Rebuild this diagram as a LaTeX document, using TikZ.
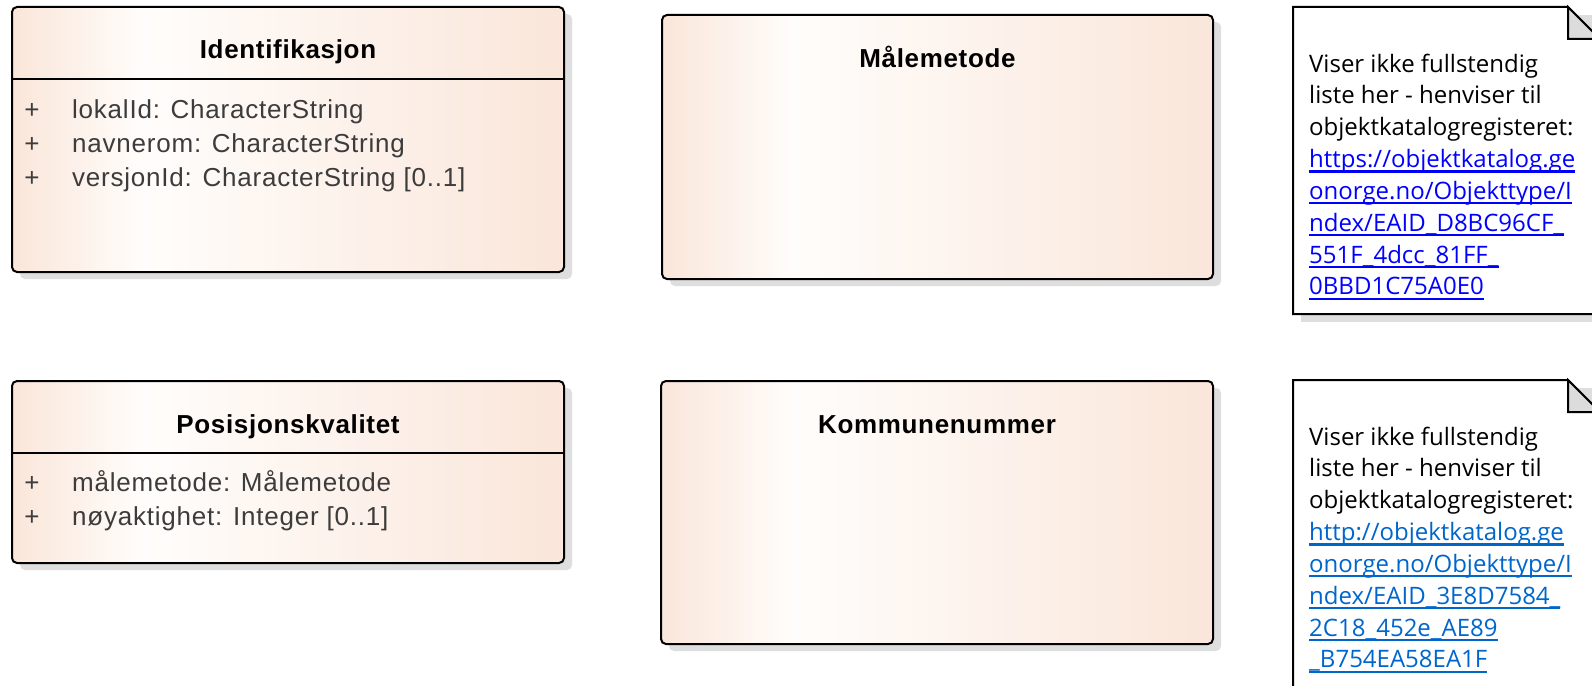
\documentclass[tikz,border=0pt]{standalone}
\usepackage{fontspec}
\setmainfont{Liberation Sans}
\newfontfamily\attrfont[LetterSpace=3]{Liberation Sans}
\newfontfamily\titlefont[LetterSpace=2.6]{Liberation Sans}
\newfontfamily\notefont{Open Sans}
\usetikzlibrary{shadows}
\definecolor{peach}{RGB}{250,230,218}
\definecolor{peachlight}{RGB}{255,253,251}
\definecolor{shadowgray}{RGB}{222,222,222}
\definecolor{attrgray}{RGB}{60,60,60}
\definecolor{foldgray}{RGB}{220,220,220}
\definecolor{linkA}{RGB}{0,0,255}
\definecolor{linkB}{RGB}{0,102,204}
\pgfdeclarehorizontalshading{classshade}{100bp}{color(0bp)=(peach); color(25bp)=(peach); color(37bp)=(peachlight); color(75bp)=(peach); color(100bp)=(peach)}
\newcommand\lnk[1]{\setbox0=\hbox{#1}\rlap{\rule[-5pt]{\wd0}{2.2pt}}\box0}
\tikzset{
  classbox/.style={draw=black, line width=2pt, rounded corners=5pt, shading=classshade, shade,
    inner sep=0pt, outer sep=0pt, anchor=north west,
    drop shadow={shadow xshift=8pt, shadow yshift=-7pt, fill=shadowgray, opacity=1}},
  sepline/.style={draw=black, line width=2pt},
  titletext/.style={anchor=base, inner sep=0pt, font=\titlefont\bfseries\fontsize{26pt}{30pt}\selectfont},
  attr/.style={anchor=base west, inner sep=0pt, text=attrgray, font=\attrfont\fontsize{26pt}{30pt}\selectfont},
  plus/.style={anchor=base, inner sep=0pt, text=attrgray, font=\fontsize{26pt}{30pt}\selectfont},
  notebody/.style={draw=black, fill=white, line width=2pt},
  noteshadow/.style={fill=shadowgray},
  notefold/.style={draw=black, fill=foldgray, line width=2pt, line join=miter},
  notetext/.style={anchor=base west, inner sep=0pt, font=\notefont\fontsize{24pt}{28pt}\selectfont},
}
\begin{document}
\begin{tikzpicture}[x=1pt,y=-1pt]
\useasboundingbox[fill=white] (0,0) rectangle (1592,685);
\clip (0,0) rectangle (1592,685);

% Identifikasjon
\node[classbox, minimum width=552pt, minimum height=265pt] (idbox) at (12,7) {};
\coordinate (idsep) at (0,79);
\draw[sepline] (idbox.west |- idsep) -- (idbox.east |- idsep);
\node[titletext] (idtitle) at (288,59) {Identifikasjon};
\node[plus] (idp1) at (32,118) {+};
\node[attr] (ida1) at (72,118) {lokalId: CharacterString};
\node[plus] (idp2) at (32,152) {+};
\node[attr] (ida2) at (72,152) {navnerom: CharacterString};
\node[plus] (idp3) at (32,186) {+};
\node[attr] (ida3) at (72,186) {versjonId: CharacterString [0..1]};

% Målemetode
\node[classbox, minimum width=551pt, minimum height=264pt] (malbox) at (662,15) {};
\node[titletext] (maltitle) at (937.5,67) {Målemetode};

% Posisjonskvalitet
\node[classbox, minimum width=552pt, minimum height=182pt] (posbox) at (12,381) {};
\coordinate (possep) at (0,453);
\draw[sepline] (posbox.west |- possep) -- (posbox.east |- possep);
\node[titletext] (postitle) at (288,433) {Posisjonskvalitet};
\node[plus] (posp1) at (32,491) {+};
\node[attr] (posa1) at (72,491) {målemetode: Målemetode};
\node[plus] (posp2) at (32,525) {+};
\node[attr] (posa2) at (72,525) {nøyaktighet: Integer [0..1]};

% Kommunenummer
\node[classbox, minimum width=552pt, minimum height=263pt] (kombox) at (661,381) {};
\node[titletext] (komtitle) at (937,433) {Kommunenummer};

% Note 1
\fill[noteshadow] (1301,15) rectangle (1610,322);
\draw[notebody] (1293,7) -- (1568,7) -- (1600,39) -- (1600,314) -- (1293,314) -- cycle;
\draw[notefold] (1568,7) -- (1568,39) -- (1600,39) -- cycle;
\foreach \t [count=\i] in {{Viser ikke fullstendig},{liste her - henviser til},{objektkatalogregisteret:}}
  \node[notetext] (na\i) at (1309,{72+(\i-1)*31.85}) {\t};
\foreach \t [count=\i from 4] in {{https://objektkatalog.ge},{onorge.no/Objekttype/I},{ndex/EAID\_D8BC96CF\_},{551F\_4dcc\_81FF\_},{0BBD1C75A0E0}}
  \node[notetext, text=linkA] (na\i) at (1309,{72+(\i-1)*31.85}) {\lnk{\t}};

% Note 2
\fill[noteshadow] (1301,388) rectangle (1610,700);
\draw[notebody] (1293,380) -- (1568,380) -- (1600,412) -- (1600,695) -- (1293,695) -- cycle;
\draw[notefold] (1568,380) -- (1568,412) -- (1600,412) -- cycle;
\foreach \t [count=\i] in {{Viser ikke fullstendig},{liste her - henviser til},{objektkatalogregisteret:}}
  \node[notetext] (nb\i) at (1309,{445+(\i-1)*31.85}) {\t};
\foreach \t [count=\i from 4] in {{http://objektkatalog.ge},{onorge.no/Objekttype/I},{ndex/EAID\_3E8D7584\_},{2C18\_452e\_AE89},{\_B754EA58EA1F}}
  \node[notetext, text=linkB] (nb\i) at (1309,{445+(\i-1)*31.85}) {\lnk{\t}};
\end{tikzpicture}
\end{document}
